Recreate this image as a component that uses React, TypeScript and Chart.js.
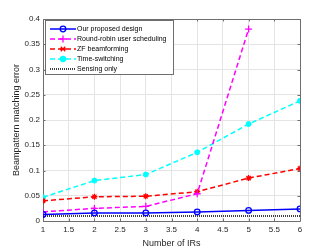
import React, { useEffect, useRef } from "react";
import { Chart, registerables } from "chart.js";

Chart.register(...registerables);

const irs = [1, 2, 3, 4, 5, 6];
const proposed = [0.013, 0.016, 0.016, 0.018, 0.021, 0.024];
const roundRobin = [0.018, 0.025, 0.029, 0.054, 0.38, null];
const zfBeamforming = [0.04, 0.048, 0.049, 0.058, 0.085, 0.104];
const timeSwitching = [0.047, 0.08, 0.092, 0.136, 0.192, 0.238];
const sensingOnly = [0.01, 0.01, 0.01, 0.01, 0.01, 0.01];
const seriesLabels = [
  "Our proposed design",
  "Round-robin user scheduling",
  "ZF beamforming",
  "Time-switching",
  "Sensing only",
];
const xTickValues = [1, 1.5, 2, 2.5, 3, 3.5, 4, 4.5, 5, 5.5, 6];
const yTickValues = [0, 0.05, 0.1, 0.15, 0.2, 0.25, 0.3, 0.35, 0.4];
const xTitle = "Number of IRs";
const yTitle = "Beampattern matching error";

const AXIS = "#262626";
const BOX = "#6e6e6e";
const FONT = "'Liberation Sans', Arial, sans-serif";

function drawMarker(ctx: CanvasRenderingContext2D, style: string, x: number, y: number, r: number, color: string, fill: boolean) {
  ctx.save();
  ctx.strokeStyle = color;
  ctx.fillStyle = color;
  ctx.lineWidth = 1.3;
  ctx.setLineDash([]);
  ctx.beginPath();
  if (style === "circle") {
    ctx.arc(x, y, r, 0, Math.PI * 2);
    if (fill) ctx.fill();
    ctx.stroke();
  } else if (style === "cross") {
    ctx.moveTo(x - r, y); ctx.lineTo(x + r, y);
    ctx.moveTo(x, y - r); ctx.lineTo(x, y + r);
    ctx.stroke();
  } else if (style === "star") {
    ctx.moveTo(x - r, y); ctx.lineTo(x + r, y);
    const d = r * 0.75;
    ctx.moveTo(x - d, y - d); ctx.lineTo(x + d, y + d);
    ctx.moveTo(x - d, y + d); ctx.lineTo(x + d, y - d);
    ctx.stroke();
  }
  ctx.restore();
}

const boxPlugin = {
  id: "matlabBox",
  beforeDatasetsDraw(chart: any) {
    const { ctx, chartArea } = chart;
    const { left, right, top, bottom } = chartArea;
    const xs = chart.scales.x;
    const ys = chart.scales.y;
    ctx.save();
    ctx.strokeStyle = BOX;
    ctx.lineWidth = 1;
    ctx.beginPath();
    ctx.rect(Math.round(left) + 0.5, Math.round(top) + 0.5, Math.round(right - left), Math.round(bottom - top));
    ctx.stroke();
    const tl = 2.5;
    ctx.beginPath();
    xTickValues.forEach((v) => {
      const px = Math.round(xs.getPixelForValue(v)) + 0.5;
      ctx.moveTo(px, bottom); ctx.lineTo(px, bottom - tl);
      ctx.moveTo(px, top); ctx.lineTo(px, top + tl);
    });
    yTickValues.forEach((v) => {
      const py = Math.round(ys.getPixelForValue(v)) + 0.5;
      ctx.moveTo(left, py); ctx.lineTo(left + tl, py);
      ctx.moveTo(right, py); ctx.lineTo(right - tl, py);
    });
    ctx.stroke();
    ctx.restore();
  },
  afterDraw(chart: any) {
    const { ctx } = chart;
    const bx = 45.5, by = 20.5, bw = 128, bh = 54;
    ctx.save();
    ctx.fillStyle = "#ffffff";
    ctx.fillRect(bx, by, bw, bh);
    ctx.strokeStyle = BOX;
    ctx.lineWidth = 1;
    ctx.strokeRect(bx, by, bw, bh);
    ctx.font = `7px ${FONT}`;
    ctx.textBaseline = "middle";
    ctx.textAlign = "left";
    chart.data.datasets.forEach((ds: any, i: number) => {
      const y = 29 + i * 10;
      ctx.save();
      ctx.strokeStyle = ds.borderColor;
      ctx.lineWidth = ds.borderWidth;
      ctx.setLineDash(ds.borderDash || []);
      ctx.beginPath();
      ctx.moveTo(50, y);
      ctx.lineTo(76, y);
      ctx.stroke();
      ctx.restore();
      if (ds.pointStyle && ds.pointRadius > 0) {
        drawMarker(ctx, ds.pointStyle, 63, y, ds.pointRadius, ds.borderColor, ds.pointBackgroundColor !== "transparent");
      }
      ctx.fillStyle = "#000000";
      ctx.fillText(seriesLabels[i], 77, y + 0.5);
    });
    ctx.restore();
  },
};

export default function App() {
  const ref = useRef<HTMLCanvasElement | null>(null);
  useEffect(() => {
    if (!ref.current) return;
    const mk = (data: (number | null)[]) => irs.map((x, i) => ({ x, y: data[i] }));
    const chart = new Chart(ref.current, {
      type: "line",
      data: {
        datasets: [
          {
            label: seriesLabels[0], data: mk(proposed), borderColor: "#0000ff", borderWidth: 1.5,
            pointStyle: "circle", pointRadius: 2.8, pointBorderWidth: 1.3, pointBackgroundColor: "transparent",
            pointBorderColor: "#0000ff",
          },
          {
            label: seriesLabels[1], data: mk(roundRobin), borderColor: "#ff00ff", borderWidth: 1.5, borderDash: [5, 3],
            pointStyle: "cross", pointRadius: 3.5, pointBorderWidth: 1.3, pointBackgroundColor: "transparent",
            pointBorderColor: "#ff00ff",
          },
          {
            label: seriesLabels[2], data: mk(zfBeamforming), borderColor: "#ff0000", borderWidth: 1.5, borderDash: [5, 3],
            pointStyle: "star", pointRadius: 3, pointBorderWidth: 1.3, pointBackgroundColor: "transparent",
            pointBorderColor: "#ff0000",
          },
          {
            label: seriesLabels[3], data: mk(timeSwitching), borderColor: "#00ffff", borderWidth: 1.5, borderDash: [5, 3],
            pointStyle: "circle", pointRadius: 2.5, pointBorderWidth: 1, pointBackgroundColor: "#00ffff",
            pointBorderColor: "#00ffff",
          },
          {
            label: seriesLabels[4], data: mk(sensingOnly), borderColor: "#000000", borderWidth: 1.5, borderDash: [1, 1],
            pointRadius: 0,
          },
        ],
      },
      options: {
        animation: false,
        responsive: false,
        devicePixelRatio: 1,
        layout: { padding: { left: 0, right: 32, top: 19, bottom: 0 } },
        plugins: { legend: { display: false }, tooltip: { enabled: false } },
        elements: { line: { tension: 0 } },
        scales: {
          x: {
            type: "linear",
            min: 1,
            max: 6,
            afterFit: (s: any) => { s.height = 28; },
            afterBuildTicks: (s: any) => { s.ticks = xTickValues.map((v) => ({ value: v })); },
            grid: { color: "#e4e4e4", drawTicks: false, lineWidth: 1 },
            border: { display: false },
            ticks: {
              font: { family: FONT, size: 8 }, color: AXIS, padding: 4, maxRotation: 0,
              callback: (v: any) => String(v),
            },
            title: { display: true, text: xTitle, font: { family: FONT, size: 9 }, color: AXIS, padding: { top: 1.6, bottom: 0 } },
          },
          y: {
            type: "linear",
            min: 0,
            max: 0.4,
            afterFit: (s: any) => { s.width = 43; },
            afterBuildTicks: (s: any) => { s.ticks = yTickValues.map((v) => ({ value: v })); },
            grid: { color: "#e4e4e4", drawTicks: false, lineWidth: 1 },
            border: { display: false },
            ticks: {
              font: { family: FONT, size: 8 }, color: AXIS, padding: 3,
              callback: (v: any) => String(Math.round(v * 100) / 100),
            },
            title: { display: true, text: yTitle, font: { family: FONT, size: 9 }, color: AXIS, padding: { top: 11.6, bottom: 0 } },
          },
        },
      },
      plugins: [boxPlugin],
    });
    return () => chart.destroy();
  }, []);
  return (
    <div style={{ position: "absolute", left: 0, top: 0, width: 332, height: 249, background: "#fff" }}>
      <canvas ref={ref} width={332} height={249} style={{ width: 332, height: 249, display: "block" }} />
    </div>
  );
}
